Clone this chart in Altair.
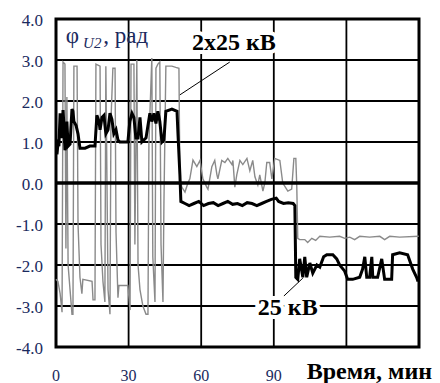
import altair as alt
import pandas as pd

# ---- data (time in minutes, phase in rad) ----
gray_t = [0, 0.8, 1.7, 2.5, 2.9, 3.7, 4.1, 4.5, 5.0, 5.8, 6.6, 7.0, 7.4, 8.7, 9.1, 9.9, 10.7, 11.1,
          14.9, 15.3, 16.1, 16.5, 18.2, 18.6, 19.4, 20.2, 20.6, 21.5, 22.3, 22.7, 23.5, 24.4, 24.8,
          25.6, 26.0, 29.7, 30.6, 31.0, 32.2, 32.6, 33.4, 33.9, 34.7, 35.9, 37.2, 38.0, 38.4, 39.6,
          40.0, 40.9, 41.3, 42.1, 42.9, 43.4, 44.2, 44.6, 45.4, 47.9, 49.5, 50.8, 51.2,
          52.0, 53.3, 54.5, 55.3, 56.6, 58.2, 59.5, 60.7, 62.3, 62.8, 64.4, 65.6, 66.5, 66.9, 68.5,
          69.8, 71.0, 72.7, 73.1, 73.9, 74.7, 76.0, 77.2, 78.9, 80.1, 81.3, 82.2, 83.4, 84.2, 85.5,
          86.3, 87.1, 88.3, 89.2, 90.4, 92.5, 93.7, 95.8, 97.4, 98.3, 99.1, 99.5, 99.9,
          100.7, 102.8, 104.0, 105.7, 107.3, 109.0, 113.1, 117.2, 119.3, 121.4, 123.4, 125.5,
          129.6, 133.8, 135.8, 137.9, 142.0, 149.9]
gray_v = [-2.35, -2.4, -2.7, -3.15, 2.95, 2.9, -1.6, 2.1, -2.0, -2.6, -3.2, -3.2, 2.85, 2.85, -1.0,
          -2.3, -2.7, -2.35, -2.4, -2.85, -2.85, 2.9, 2.85, -1.5, -2.4, -2.9, 2.85, -2.6, -3.2, 1.5,
          2.8, 2.8, -1.2, -2.8, -2.5, -2.5, -3.1, 2.9, 2.9, -1.5, 3.0, -2.0, -2.6, -3.0, -3.2, -3.2,
          1.0, 3.05, -1.8, -2.9, 2.8, 2.9, 2.95, -1.5, -2.9, -0.5, 2.85, 2.85, 2.82, 2.8, 0.1,
          -0.1, -0.22, 0.0, 0.1, 0.56, 0.4, 0.55, 0.1, -0.1, -0.15, 0.4, 0.55, 0.2, 0.1, 0.55,
          0.5, 0.6, 0.45, 0.55, -0.1, 0.2, 0.55, 0.45, 0.6, 0.3, 0.55, 0.15, -0.05, 0.2, -0.2,
          0.0, 0.5, 0.5, 0.1, 0.6, 0.55, 0.0, -0.2, -0.15, 0.6, 0.6, -0.1, -1.35,
          -1.38, -1.38, -1.45, -1.35, -1.4, -1.3, -1.32, -1.3, -1.35, -1.32, -1.38, -1.3,
          -1.32, -1.3, -1.38, -1.3, -1.32, -1.3]

black_t = [0.4, 0.8, 1.2, 1.7, 2.1, 2.5, 2.9, 3.3, 3.7, 4.1, 4.5, 5.0, 5.8, 6.6, 7.0, 7.4, 8.3, 9.1,
           9.9, 12.0, 14.0, 16.1, 16.9, 17.8, 18.2, 19.0, 19.8, 20.6, 21.5, 22.3, 23.1, 23.9, 24.8,
           25.6, 26.4, 29.7, 30.5, 31.4, 32.2, 33.0, 33.9, 34.7, 35.5, 37.2, 38.0, 38.8, 39.6, 40.5,
           41.3, 42.1, 42.9, 43.8, 44.6, 45.4, 47.9, 50.0, 50.4, 51.2, 51.6,
           53.3, 55, 57, 59, 61, 63, 65, 67, 69, 71, 73, 75, 77, 79, 81, 83, 85, 87, 89, 91, 92,
           94, 96, 98, 98.7, 99.1, 99.9, 100.7, 102.0, 102.8, 103.6, 104.9, 106.1, 107.8, 109.0,
           110.6, 111.9, 114.4, 116.0, 117.2, 119.3, 120.5, 122.6, 125.5, 126.7, 127.6, 128.4,
           129.6, 130.5, 130.9, 132.9, 134.6, 135.8, 138.7, 139.1, 142.0, 145.3, 147.4, 149.0, 149.6]
black_v = [0.7, 0.95, 0.9, 1.7, 1.2, 1.1, 1.78, 1.4, 0.8, 1.0, 1.5, 0.9, 0.95, 1.8, 1.75, 1.5, 1.4,
           1.2, 0.85, 0.85, 0.9, 0.9, 1.65, 1.5, 1.3, 1.6, 1.65, 1.2, 1.3, 1.7, 1.55, 1.2, 1.3, 1.05,
           1.0, 1.0, 1.5, 1.7, 1.6, 1.1, 1.1, 1.6, 1.0, 1.1, 1.4, 1.7, 1.5, 1.7, 1.45, 1.75, 1.5,
           1.0, 1.05, 1.75, 1.8, 1.75, 1.2, 0.2, -0.45,
           -0.5, -0.55, -0.5, -0.45, -0.55, -0.5, -0.48, -0.55, -0.5, -0.45, -0.52, -0.5, -0.55,
           -0.48, -0.5, -0.55, -0.5, -0.45, -0.4, -0.37, -0.45, -0.5, -0.48, -0.5, -0.55,
           -2.3, -2.35, -1.85, -2.3, -1.8, -2.3, -1.95, -2.2, -2.0, -2.05, -1.8, -1.75, -1.75,
           -1.85, -2.0, -2.15, -2.35, -2.35, -2.3, -2.1, -1.8, -2.3, -2.3, -1.8, -2.3, -2.3, -1.85,
           -2.35, -2.35, -1.75, -1.7, -1.75, -2.1, -2.3, -2.4]

x_grid = [30, 60, 90, 120]
y_grid = [-3, -2, -1, 1, 2, 3]
x_label_vals = [0, 30, 60, 90]
x_label_txt = ["0", "30", "60", "90"]
y_label_vals = [4, 3, 2, 1, 0, -1, -2, -3, -4]
y_label_txt = ["4.0", "3.0", "2.0", "1.0", "0.0", "-1.0", "-2.0", "-3.0", "-4.0"]
x_title = "Время, мин"

lead_t = [51.2, 94.1]
lead_v = [2.15, -2.76]
lead_t2 = [71.8, 102.0]
lead_v2 = [2.95, -2.32]

FONT = "Liberation Serif"
LABEL_COLOR = "#1a2a5e"

gray_df = pd.DataFrame({"t": gray_t, "v": gray_v, "i": range(len(gray_t))})
black_df = pd.DataFrame({"t": black_t, "v": black_v, "i": range(len(black_t))})

# grid as two-point line paths (one path per grid line)
grid_rows = []
k = 0
for g in x_grid:
    grid_rows.append({"t": g, "v": -4, "g": k, "i": 0})
    grid_rows.append({"t": g, "v": 4, "g": k, "i": 1})
    k += 1
for g in y_grid:
    grid_rows.append({"t": 0, "v": g, "g": k, "i": 0})
    grid_rows.append({"t": 150, "v": g, "g": k, "i": 1})
    k += 1
grid_df = pd.DataFrame(grid_rows)

xs = alt.Scale(domain=[0, 150], nice=False, zero=False)
ys = alt.Scale(domain=[-4, 4], nice=False, zero=False)

X = alt.X("t:Q", scale=xs, axis=None)
Y = alt.Y("v:Q", scale=ys, axis=None)

grid = alt.Chart(grid_df).mark_line(color="#000000", strokeWidth=1.8).encode(
    x=X, y=Y, detail="g:N", order="i:Q")

zero_df = pd.DataFrame({"v": [0], "t": [0], "t2": [150]})
zero_rule = alt.Chart(zero_df).mark_rule(color="black", strokeWidth=3.5).encode(
    x=X, x2="t2:Q", y=Y)

lead_df = pd.DataFrame({"t": lead_t, "v": lead_v, "t2": lead_t2, "v2": lead_v2})
leaders = alt.Chart(lead_df).mark_rule(color="black", strokeWidth=1).encode(
    x=X, y=Y, x2="t2:Q", y2="v2:Q")

gray_line = alt.Chart(gray_df).mark_line(color="#8a8a8a", strokeWidth=1.4).encode(
    x=X, y=Y, order="i:Q")
black_line = alt.Chart(black_df).mark_line(color="black", strokeWidth=3, strokeJoin="miter").encode(
    x=X, y=Y, order="i:Q")

ylab = alt.Chart(pd.DataFrame({"v": y_label_vals, "txt": y_label_txt, "t": [0] * len(y_label_vals)})).mark_text(
    font=FONT, fontSize=17, align="right", baseline="middle", dx=-13, dy=2, color=LABEL_COLOR).encode(
    x=X, y=Y, text="txt:N")
xlab = alt.Chart(pd.DataFrame({"t": x_label_vals, "txt": x_label_txt, "v": [-4] * len(x_label_vals)})).mark_text(
    font=FONT, fontSize=16, align="center", baseline="alphabetic", dy=34, color=LABEL_COLOR).encode(
    x=X, y=Y, text="txt:N")
xtitle = alt.Chart(pd.DataFrame({"t": [103.6], "v": [-4], "txt": [x_title]})).mark_text(
    font=FONT, fontSize=24, fontWeight="bold", align="left", baseline="alphabetic", dy=32,
    color="black").encode(x=X, y=Y, text="txt:N")

ann_df = pd.DataFrame({"t": [56.2, 83.4], "v": [3.24, -3.22], "txt": ["2x25 кВ", "25 кВ"]})
ann_halo = alt.Chart(ann_df).mark_text(font=FONT, fontSize=24, fontWeight="bold", align="left",
                                       baseline="alphabetic", fill="white", stroke="white",
                                       strokeWidth=8).encode(x=X, y=Y, text="txt:N")
ann_text = alt.Chart(ann_df).mark_text(font=FONT, fontSize=24, fontWeight="bold", align="left",
                                       baseline="alphabetic", color="black").encode(
    x=X, y=Y, text="txt:N")

lab_df = pd.DataFrame({"t": [4.0, 19.5], "v": [3.41, 3.41], "txt": ["φ", ", рад"]})
lab_text = alt.Chart(lab_df).mark_text(font=FONT, fontSize=23, align="left", baseline="alphabetic",
                                       color=LABEL_COLOR).encode(x=X, y=Y, text="txt:N")
sub_df = pd.DataFrame({"t": [11.2], "v": [3.3], "txt": ["U2"]})
sub_text = alt.Chart(sub_df).mark_text(font=FONT, fontSize=15, fontStyle="italic", align="left",
                                       baseline="alphabetic", color=LABEL_COLOR).encode(
    x=X, y=Y, text="txt:N")

chart = alt.layer(grid, gray_line, zero_rule, black_line, leaders, ann_halo, ann_text,
                  lab_text, sub_text, ylab, xlab, xtitle).properties(
    width=363, height=328,
    autosize=alt.AutoSizeParams(type="none"),
    padding={"left": 56, "top": 19, "right": 21, "bottom": 36},
    background="white",
).configure_view(stroke="black", strokeWidth=3)

chart.save("out.html", embed_options={"renderer": "svg", "actions": False})
